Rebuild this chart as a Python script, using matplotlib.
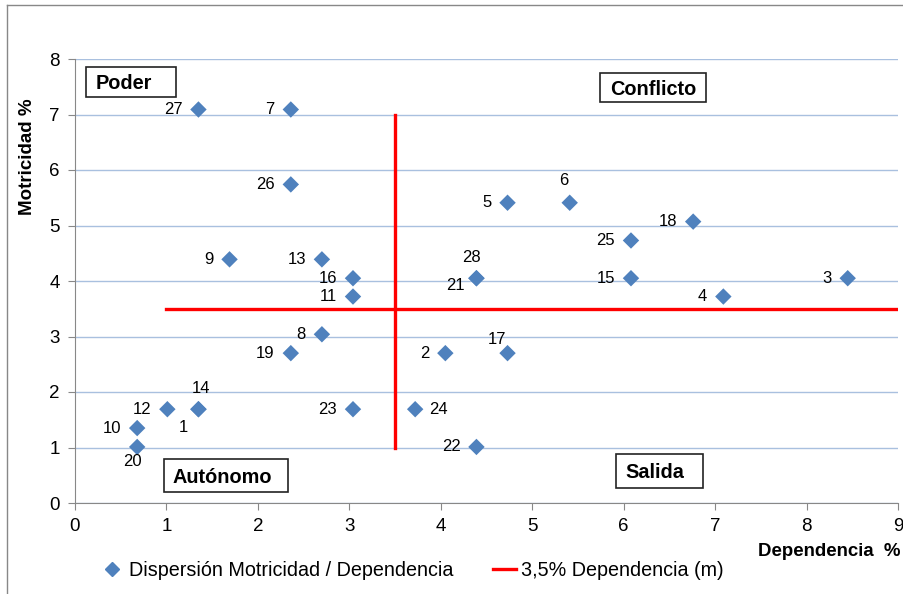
import matplotlib.pyplot as plt
from matplotlib.lines import Line2D
from matplotlib.patches import Rectangle

plt.rcParams['font.family'] = ['Liberation Sans', 'DejaVu Sans']

# ----------------------------------
# Data (Dependencia %, Motricidad %)
# ----------------------------------
ids = ["27", "7", "26", "9", "13", "16", "11", "8", "19", "12", "14", "1",
       "10", "20", "23", "24", "22", "2", "17", "28", "21", "5", "6", "25",
       "18", "15", "4", "3"]
dependencia = [1.35, 2.36, 2.36, 1.69, 2.70, 3.04, 3.04, 2.70, 2.36, 1.01, 1.35, 1.35,
               0.68, 0.68, 3.04, 3.72, 4.39, 4.05, 4.73, 4.39, 4.39, 4.73, 5.41, 6.08,
               6.76, 6.08, 7.09, 8.45]
motricidad = [7.09, 7.09, 5.74, 4.39, 4.39, 4.05, 3.72, 3.04, 2.70, 1.69, 1.69, 1.69,
              1.35, 1.01, 1.69, 1.69, 1.01, 2.70, 2.70, 4.05, 4.05, 5.41, 5.41, 4.73,
              5.07, 4.05, 3.72, 4.05]

limite = 3.5
h_line_x = [1.0, 9.0]
v_line_y = [1.0, 7.0]

quadrants = ["Poder", "Conflicto", "Autónomo", "Salida"]

# label offsets in pixels (dx, dy, ha) for the labels not placed on the left
special = {
    "6": (-6, 22, "center"),
    "28": (-5, 21, "center"),
    "21": (-21, -7, "center"),
    "17": (-11, 14, "center"),
    "14": (3, 21, "center"),
    "1": (-15, -18, "center"),
    "20": (-5, -15, "center"),
    "24": (14, 0, "left"),
}

W, H = 904, 594
fig = plt.figure(figsize=(W / 100, H / 100), dpi=100)
ax = fig.add_axes([75 / W, 1 - 503 / H, 823 / W, 444 / H])

ax.set_xlim(0, 9)
ax.set_ylim(0, 8)
ax.set_xticks(range(0, 10))
ax.set_yticks(range(0, 9))
ax.grid(axis="y", color="#A9C0DF", lw=1)
ax.set_axisbelow(True)
for side in ["top", "right"]:
    ax.spines[side].set_visible(False)
for side in ["left", "bottom"]:
    ax.spines[side].set_color("#888888")
ax.tick_params(colors="#888888", labelcolor="black", labelsize=13.5, length=5,
               direction="out", pad=6)

ax.plot(h_line_x, [limite, limite], color="red", lw=2.4, zorder=2)
ax.plot([limite, limite], v_line_y, color="red", lw=2.4, zorder=2)
ax.scatter(dependencia, motricidad, marker="D", s=70, color="#4F81BD",
           edgecolors="none", zorder=3)

px = 0.72  # points per pixel at 100 dpi
for name, x, y in zip(ids, dependencia, motricidad):
    dx, dy, ha = special.get(name, (-16, 0, "right"))
    ax.annotate(name, (x, y), xytext=(dx * px, dy * px), textcoords="offset points",
                ha=ha, va="center", fontsize=12)

# quadrant boxes (pixel boxes: x0, x1, y0, y1, text start)
boxes = [(86, 176, 67, 97, 96), (600, 706, 73, 102, 610),
         (164, 288, 459, 492, 173), (616, 703, 454, 488, 625)]
for text, (x0, x1, y0, y1, tx) in zip(quadrants, boxes):
    fig.patches.append(Rectangle((x0 / W, 1 - y1 / H), (x1 - x0) / W, (y1 - y0) / H,
                                 transform=fig.transFigure, fill=True, facecolor="white",
                                 edgecolor="#222222", lw=1.2, zorder=5))
    fig.text(tx / W, 1 - (y0 + y1) / 2 / H - 0.003, text, ha="left", va="center",
             fontsize=14.3, fontweight="bold", zorder=6)

fig.text(28 / W, 1 - 157 / H, "Motricidad %", rotation=90, ha="center", va="center",
         fontsize=13.5, fontweight="bold")
fig.text(758 / W, 1 - 551 / H, "Dependencia  %", ha="left", va="center",
         fontsize=13.4, fontweight="bold")

# outer chart border (left and top visible)
fig.add_artist(Line2D([7 / W, 7 / W], [0, 1 - 5 / H], transform=fig.transFigure,
                      color="#888888", lw=1))
fig.add_artist(Line2D([7 / W, 1], [1 - 5 / H, 1 - 5 / H], transform=fig.transFigure,
                      color="#888888", lw=1))

handles = [Line2D([], [], marker="D", color="#4F81BD", ls="none", markersize=7),
           Line2D([], [], color="red", lw=2.4)]
fig.legend(handles, ["Dispersión Motricidad / Dependencia", "3,5% Dependencia (m)"],
           loc="center", bbox_to_anchor=(412 / W, 1 - 570 / H), ncol=2, frameon=False,
           fontsize=14.2, handlelength=1.2, handletextpad=0.25, columnspacing=2.0)

fig.savefig("out.png", dpi=100)
